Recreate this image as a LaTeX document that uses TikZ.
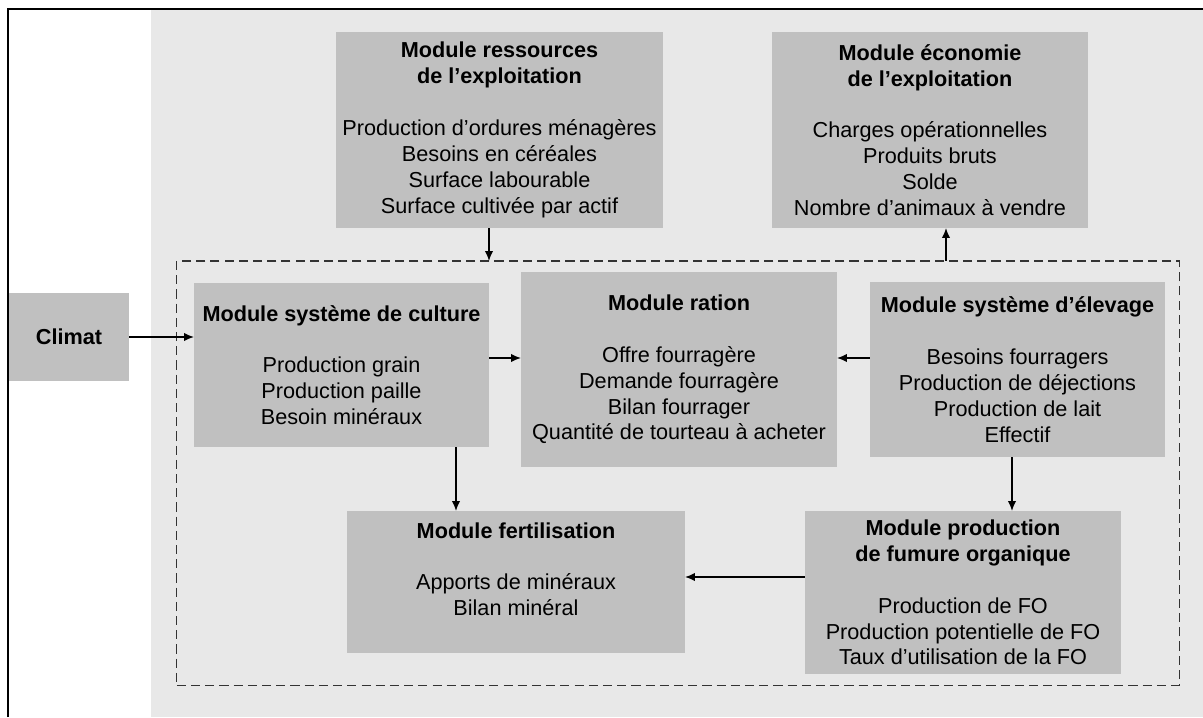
\documentclass[tikz,border=0pt]{standalone}
\usepackage{fontspec}
\setmainfont{Liberation Sans}
\usepackage{tikz}
\usetikzlibrary{arrows.meta}
\definecolor{fondgris}{HTML}{E8E8E8}
\definecolor{boitegris}{HTML}{C0C0C0}
\definecolor{tiret}{HTML}{333333}

\begin{document}
\begin{tikzpicture}[x=0.025cm, y=-0.025cm,
    module/.style={fill=boitegris, align=center, inner sep=0pt, outer sep=0pt,
      font=\fontsize{15.4}{18.4}\selectfont},
    fleche/.style={-{Latex[length=7pt,width=6pt]}, line width=1.1pt}]
          \useasboundingbox (0,0) rectangle (1203,717);
          % Background and frame
          \fill[fondgris] (151,10) rectangle (1203,717);
          \draw[line width=1.4pt] (8,717) -- (8,9) -- (1203,9);
          % Model boundary
          \node[draw=tiret, line width=0.8pt, dash pattern=on 6.5pt off 3.6pt,
            outer sep=0pt, minimum width=25.05cm, minimum height=10.6cm] (modele) at (678,473) {};
          % Outer modules
          \node[module, minimum width=8.175cm, minimum height=4.9cm] (ressources) at (499.5,130)
            {\textbf{Module ressources}\\\textbf{de l’exploitation}\\[18.4pt]Production d’ordures ménagères\\Besoins en céréales\\Surface labourable\\Surface cultivée par actif};
          \node[module, minimum width=7.9cm, minimum height=4.9cm] (economie) at (930,130)
            {\textbf{Module économie}\\\textbf{de l’exploitation}\\[18.4pt]Charges opérationnelles\\Produits bruts\\Solde\\Nombre d’animaux à vendre};
          \node[module, minimum width=3.0cm, minimum height=2.2cm] (climat) at (69,337)
            {\textbf{Climat}};
          % Inner modules
          \node[module, minimum width=7.375cm, minimum height=4.1cm] (culture) at (341.5,365)
            {\textbf{Module système de culture}\\[18.4pt]Production grain\\Production paille\\Besoin minéraux};
          \node[module, minimum width=7.9cm, minimum height=4.875cm] (ration) at (679,369.5)
            {\textbf{Module ration}\\[18.4pt]Offre fourragère\\Demande fourragère\\Bilan fourrager\\Quantité de tourteau à acheter};
          \node[module, minimum width=7.375cm, minimum height=4.375cm] (elevage) at (1017.5,369.5)
            {\textbf{Module système d’élevage}\\[18.4pt]Besoins fourragers\\Production de déjections\\Production de lait\\Effectif};
          \node[module, minimum width=8.45cm, minimum height=3.55cm] (fert) at (516,582)
            {\textbf{Module fertilisation}\\[18.4pt]Apports de minéraux\\Bilan minéral\\\mbox{}};
          \node[module, minimum width=7.9cm, minimum height=4.075cm] (fumure) at (963,592.5)
            {\textbf{Module production}\\\textbf{de fumure organique}\\[18.4pt]Production de FO\\Production potentielle de FO\\Taux d’utilisation de la FO};
          % Connector positions
          \coordinate (entree) at (489,0);
          \coordinate (vente) at (946,0);
          \coordinate (fourrage) at (0,358);
          \coordinate (mineraux) at (456,0);
          \coordinate (dejections) at (1012,0);
          \coordinate (apport) at (0,577);
          % Arrows
          \draw[fleche] (ressources.south -| entree) -- (modele.north -| entree);
          \draw[fleche] (modele.north -| vente) -- (economie.south -| vente);
          \draw[fleche] (climat.east) -- (culture.west |- climat.east);
          \draw[fleche] (culture.east |- fourrage) -- (ration.west |- fourrage);
          \draw[fleche] (elevage.west |- fourrage) -- (ration.east |- fourrage);
          \draw[fleche] (culture.south -| mineraux) -- (fert.north -| mineraux);
          \draw[fleche] (elevage.south -| dejections) -- (fumure.north -| dejections);
          \draw[fleche] (fumure.west |- apport) -- (fert.east |- apport);
        \end{tikzpicture}
\end{document}
